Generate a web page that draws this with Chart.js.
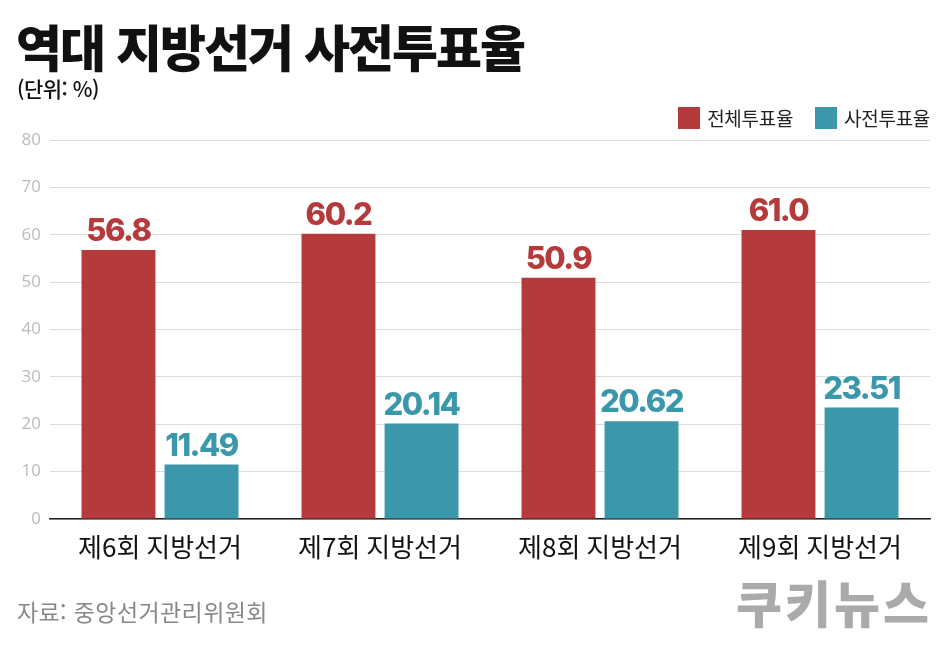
<!DOCTYPE html>
<html lang="ko">
<head>
<meta charset="utf-8">
<script src="https://cdn.jsdelivr.net/npm/chart.js@4"></script>
<style>
  html, body { margin: 0; padding: 0; background: #fff; }
  body { width: 950px; height: 645px; position: relative; overflow: hidden; font-family: 'Noto Sans CJK KR', 'Noto Sans', sans-serif; }
  #wrap { position: absolute; left: 0; top: 0; width: 950px; height: 645px; }
  .title { position: absolute; left: 16px; top: 9px; font-size: 50px; font-weight: 900; color: #111; letter-spacing: -2px; }
  .unit { position: absolute; left: 17px; top: 73px; font-size: 21px; font-weight: 500; color: #111; letter-spacing: -0.5px; }
  .legend { position: absolute; right: 20px; top: 104px; display: flex; align-items: center; font-size: 19px; color: #222; letter-spacing: -0.3px; }
  .legend span.box { display: inline-block; width: 22px; height: 22px; margin-right: 7px; }
  .legend .item { display: flex; align-items: center; margin-left: 22px; }
  .source { position: absolute; left: 17px; top: 594px; font-size: 23px; color: #888; letter-spacing: 0.4px; }
  .logo { position: absolute; right: 18px; top: 565px; font-size: 50px; font-weight: 900; color: #aaa; letter-spacing: 3px; }
</style>
</head>
<body>
<div id="wrap"><canvas id="chart" width="950" height="645"></canvas></div>
<div class="title">역대 지방선거 사전투표율</div>
<div class="unit">(단위: %)</div>
<div class="legend">
  <div class="item"><span class="box" style="background:#B53A3B"></span>전체투표율</div>
  <div class="item"><span class="box" style="background:#3A98AA"></span>사전투표율</div>
</div>
<div class="source">자료: 중앙선거관리위원회</div>
<div class="logo">쿠키뉴스</div>
<script>
const categories = ['제6회 지방선거', '제7회 지방선거', '제8회 지방선거', '제9회 지방선거'];
const seriesNames = ['전체투표율', '사전투표율'];
const totalTurnout = [56.8, 60.2, 50.9, 61.0];
const earlyTurnout = [11.49, 20.14, 20.62, 23.51];
const totalLabels = ['56.8', '60.2', '50.9', '61.0'];
const earlyLabels = ['11.49', '20.14', '20.62', '23.51'];
const colors = ['#B53A3B', '#3A98AA'];

const valueLabels = {
  id: 'valueLabels',
  afterDatasetsDraw(chart) {
    const { ctx } = chart;
    const texts = [totalLabels, earlyLabels];
    ctx.save();
    ctx.font = '800 31px Inter, "Noto Sans", sans-serif';
    ctx.letterSpacing = '-1.5px';
    ctx.textAlign = 'center';
    ctx.textBaseline = 'alphabetic';
    chart.data.datasets.forEach((ds, i) => {
      chart.getDatasetMeta(i).data.forEach((bar, j) => {
        ctx.fillStyle = colors[i];
        ctx.fillText(texts[i][j], bar.x, bar.y - 9);
      });
    });
    ctx.restore();
  }
};

new Chart(document.getElementById('chart').getContext('2d'), {
  type: 'bar',
  data: {
    labels: categories,
    datasets: [
      { label: seriesNames[0], data: totalTurnout, backgroundColor: colors[0], barPercentage: 0.89, categoryPercentage: 0.755 },
      { label: seriesNames[1], data: earlyTurnout, backgroundColor: colors[1], barPercentage: 0.89, categoryPercentage: 0.755 },
    ],
  },
  options: {
    responsive: false,
    animation: false,
    layout: { padding: { top: 140, right: 20, bottom: 0, left: 0 } },
    plugins: { legend: { display: false }, tooltip: { enabled: false } },
    scales: {
      x: {
        grid: { display: false, drawTicks: false },
        border: { color: '#222', width: 1.5 },
        ticks: { color: '#111', padding: 13, font: { family: 'Noto Sans CJK KR', size: 26 } },
        afterFit: s => { s.height = 126; },
      },
      y: {
        min: 0, max: 80,
        ticks: { stepSize: 10, color: '#bbb', padding: 9, font: { family: 'Open Sans', size: 17 } },
        grid: { color: '#ddd', drawTicks: false },
        border: { display: false },
        afterFit: s => { s.width = 50; },
      },
    },
  },
  plugins: [valueLabels],
});
</script>
</body>
</html>
